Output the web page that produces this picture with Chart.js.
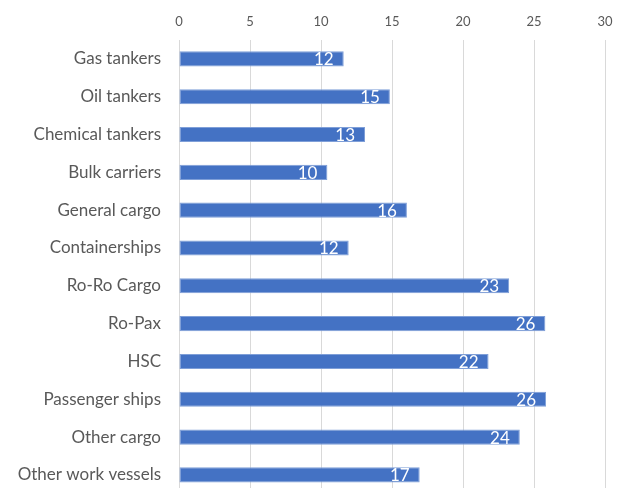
<!DOCTYPE html>
<html>
<head>
<meta charset="utf-8">
<script src="https://cdn.jsdelivr.net/npm/chart.js@4"></script>
<style>
  html, body { margin: 0; padding: 0; background: #fff; overflow: hidden; }
  #wrap { width: 624px; height: 514px; }
</style>
</head>
<body>
<div id="wrap"><canvas id="shipChart"></canvas></div>
<script>
  // categories, top to bottom
  const shipTypes = ['Gas tankers', 'Oil tankers', 'Chemical tankers', 'Bulk carriers', 'General cargo',
    'Containerships', 'Ro-Ro Cargo', 'Ro-Pax', 'HSC', 'Passenger ships', 'Other cargo', 'Other work vessels'];
  const shipValues = [11.6, 14.85, 13.1, 10.45, 16.05, 11.95, 23.25, 25.8, 21.8, 25.85, 24.0, 16.95];
  const xTicks = [0, 5, 10, 15, 20, 25, 30];

  Chart.defaults.font.family = 'Lato, "Open Sans", sans-serif';

  // white value labels at the inner end of each bar
  const barLabels = {
    id: 'barLabels',
    afterDatasetsDraw(chart) {
      const c = chart.ctx;
      const meta = chart.getDatasetMeta(0);
      c.save();
      c.fillStyle = '#ffffff';
      c.font = '17px Lato, "Open Sans", sans-serif';
      c.textAlign = 'right';
      c.textBaseline = 'middle';
      meta.data.forEach((bar, i) => {
        c.fillText(Math.round(shipValues[i]), bar.x - 10, bar.y + 1);
      });
      c.restore();
    }
  };

  const ctx = document.getElementById('shipChart').getContext('2d');

  new Chart(ctx, {
    type: 'bar',
    data: {
      labels: shipTypes,
      datasets: [{
        data: shipValues,
        backgroundColor: '#4472C4',
        borderColor: '#7f9fd8',
        borderWidth: 1,
        borderSkipped: false,
        categoryPercentage: 1,
        barPercentage: 0.4
      }]
    },
    options: {
      indexAxis: 'y',
      responsive: true,
      maintainAspectRatio: false,
      animation: false,
      layout: { padding: { left: 0, right: 19, top: 0, bottom: 0 } },
      plugins: {
        legend: { display: false },
        tooltip: { enabled: false }
      },
      scales: {
        x: {
          position: 'top',
          min: 0,
          max: 30,
          afterBuildTicks: s => { s.ticks = xTicks.map(v => ({ value: v })); },
          afterFit: s => { s.height = 40; },
          grid: { color: '#d9d9d9', drawTicks: false },
          border: { display: false },
          ticks: { color: '#595959', font: { size: 13 }, padding: 10 }
        },
        y: {
          afterFit: s => { s.width = 179; },
          grid: { display: false },
          border: { color: '#d9d9d9' },
          ticks: { color: '#595959', font: { size: 17 }, padding: 10 }
        }
      }
    },
    plugins: [barLabels]
  });
</script>
</body>
</html>
